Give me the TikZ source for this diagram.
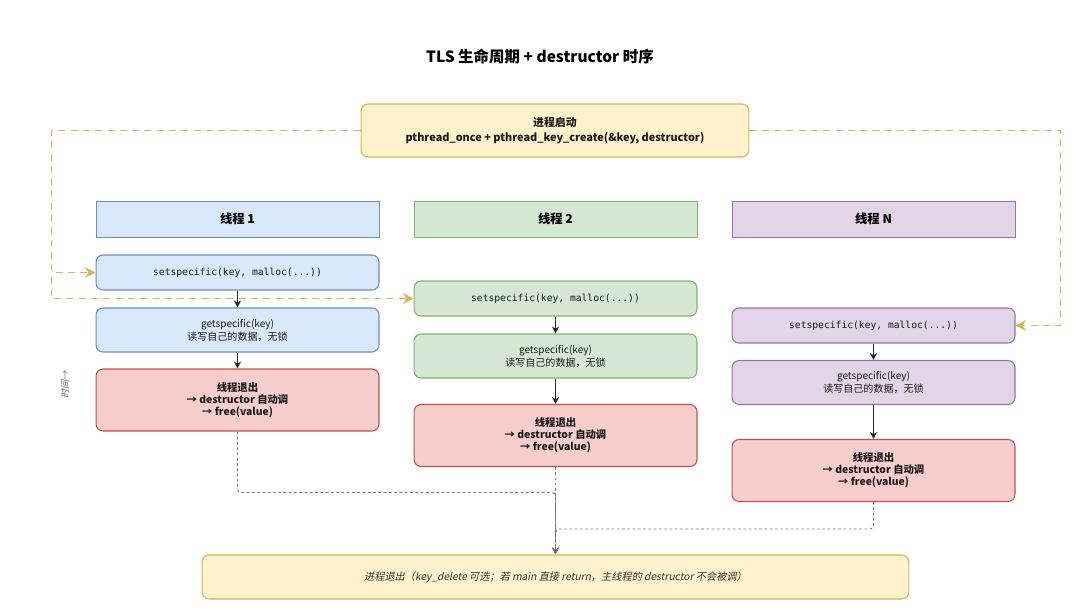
\documentclass[tikz,border=0pt]{standalone}
\usepackage{fontspec}
\setmainfont{Noto Sans CJK SC}
\setmonofont{DejaVu Sans Mono}
\newfontfamily\slantfont[FakeSlant=0.2]{Noto Sans CJK SC}
\usepackage{tikz}
\usetikzlibrary{arrows.meta}
\definecolor{bluefill}{HTML}{DAE8FC}\definecolor{bluedraw}{HTML}{6C8EBF}
\definecolor{greenfill}{HTML}{D5E8D4}\definecolor{greendraw}{HTML}{82B366}
\definecolor{purplefill}{HTML}{E1D5E7}\definecolor{purpledraw}{HTML}{9673A6}
\definecolor{redfill}{HTML}{F8CECC}\definecolor{reddraw}{HTML}{B85450}
\definecolor{yellowfill}{HTML}{FFF2CC}\definecolor{yellowdraw}{HTML}{D6B656}
\definecolor{txt}{HTML}{1A1A1A}

\begin{document}
\begin{tikzpicture}[x=0.02cm,y=-0.02cm,
    box/.style={draw, rounded corners=4pt, line width=0.6pt, minimum width=5.66cm, align=center, inner sep=1pt, text=txt},
    head/.style={draw, line width=0.5pt, minimum width=5.66cm, minimum height=0.72cm, font=\bfseries\fontsize{7}{8}\selectfont},
    setbox/.style={box, minimum height=0.7cm, font=\ttfamily\fontsize{5.5}{7}\selectfont},
    getbox/.style={box, minimum height=0.88cm, font=\fontsize{5.7}{7.4}\selectfont},
    exitbox/.style={box, fill=redfill, draw=reddraw, minimum height=1.24cm, font=\bfseries\fontsize{5.9}{6.8}\selectfont},
    yarrow/.style={draw=yellowdraw, line width=0.9pt, dash pattern=on 4pt off 3pt, -{Stealth[length=6pt,width=6pt]}},
    flow/.style={draw=black!85, line width=0.6pt, -{Stealth[length=4pt,width=4pt]}},
    dotline/.style={draw=black!55, line width=0.5pt, dash pattern=on 1.5pt off 1.5pt, rounded corners=2pt, -{Stealth[length=4pt,width=4pt]}}]
    \useasboundingbox (0,0) rectangle (1080,613);
    \node (title) at (540,57) {\bfseries\fontsize{8.8}{10}\selectfont TLS 生命周期 + destructor 时序};
    \node [box, fill=yellowfill, draw=yellowdraw, minimum width=7.76cm, minimum height=1.06cm, font=\bfseries\fontsize{6.2}{8.5}\selectfont] (start) at (555,130.5)
        {进程启动\\pthread\_once + pthread\_key\_create(\&key, destructor)};

    \node [head, fill=bluefill, draw=bluedraw] (h1) at (237.5,219) {线程 1};
    \node [head, fill=greenfill, draw=greendraw] (h2) at (555.5,219) {线程 2};
    \node [head, fill=purplefill, draw=purpledraw] (hN) at (873.5,219) {线程 N};

    \node [setbox, fill=bluefill, draw=bluedraw] (set1) at (237.5,272.5) {setspecific(key, malloc(...))};
    \node [getbox, fill=bluefill, draw=bluedraw] (get1) at (237.5,330) {getspecific(key)\\读写自己的数据，无锁};
    \node [exitbox] (exit1) at (237.5,400) {线程退出\\→ destructor 自动调\\→ free(value)};

    \node [setbox, fill=greenfill, draw=greendraw] (set2) at (555.5,298.5) {setspecific(key, malloc(...))};
    \node [getbox, fill=greenfill, draw=greendraw] (get2) at (555.5,356) {getspecific(key)\\读写自己的数据，无锁};
    \node [exitbox] (exit2) at (555.5,435.5) {线程退出\\→ destructor 自动调\\→ free(value)};

    \node [setbox, fill=purplefill, draw=purpledraw] (setN) at (873.5,325.5) {setspecific(key, malloc(...))};
    \node [getbox, fill=purplefill, draw=purpledraw] (getN) at (873.5,382.5) {getspecific(key)\\读写自己的数据，无锁};
    \node [exitbox] (exitN) at (873.5,470.5) {线程退出\\→ destructor 自动调\\→ free(value)};

    \node [box, fill=yellowfill, draw=yellowdraw, minimum width=14.14cm, minimum height=0.88cm, font=\slantfont\fontsize{5.8}{7}\selectfont, text=black!80] (end) at (555.5,577)
        {进程退出（key\_delete 可选；若 main 直接 return，主线程的 destructor 不会被调）};
    \node [rotate=90, text=black!60, font=\slantfont\fontsize{5.3}{6}\selectfont] (time) at (65,385) {时间→};

    \draw [yarrow] (start.west) -- ++(-309,0) |- (set1.west);
    \draw [yarrow] (start.west) -- ++(-309,0) |- (set2.west);
    \draw [yarrow] (start.east) -- ++(311,0) |- (setN.east);

    \draw [flow] (set1) -- (get1);
    \draw [flow] (get1) -- (exit1);
    \draw [flow] (set2) -- (get2);
    \draw [flow] (get2) -- (exit2);
    \draw [flow] (setN) -- (getN);
    \draw [flow] (getN) -- (exitN);

    \draw [dotline] (exit1.south) -- ++(0,61) -| (end.north);
    \draw [dotline] (exit2.south) -- (end.north);
    \draw [dotline] (exitN.south) -- ++(0,27) -| (end.north);
\end{tikzpicture}
\end{document}
